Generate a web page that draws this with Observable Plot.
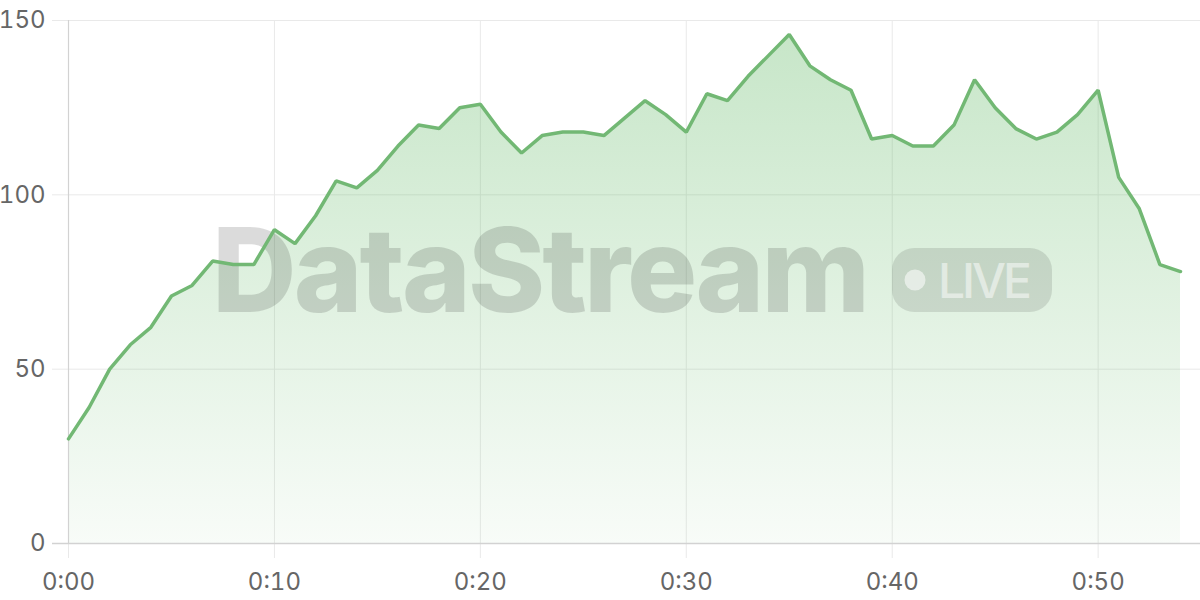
<!DOCTYPE html>
<html>
<head>
<meta charset="utf-8">
<script src="https://cdn.jsdelivr.net/npm/d3@7"></script>
<script src="https://cdn.jsdelivr.net/npm/@observablehq/plot@0.6"></script>
<style>
  html, body { margin: 0; padding: 0; background: #ffffff; }
  #chart { width: 1200px; height: 600px; }
</style>
</head>
<body>
<div id="chart"></div>
<script>
// ---- Data ----
const minutes = [0, 1, 2, 3, 4, 5, 6, 7, 8, 9,
                 10, 11, 12, 13, 14, 15, 16, 17, 18, 19,
                 20, 21, 22, 23, 24, 25, 26, 27, 28, 29,
                 30, 31, 32, 33, 34, 35, 36, 37, 38, 39,
                 40, 41, 42, 43, 44, 45, 46, 47, 48, 49,
                 50, 51, 52, 53, 54];
const values = [30, 39, 50, 57, 62, 71, 74, 81, 80, 80,
                90, 86, 94, 104, 102, 107, 114, 120, 119, 125,
                126, 118, 112, 117, 118, 118, 117, 122, 127, 123,
                118, 129, 127, 134, 140, 146, 137, 133, 130, 116,
                117, 114, 114, 120, 133, 125, 119, 116, 118, 123,
                130, 105, 96, 80, 78];
const xTicks = [0, 10, 20, 30, 40, 50];
const xTickLabels = ["0:00", "0:10", "0:20", "0:30", "0:40", "0:50"];
const yTicks = [0, 50, 100, 150];
const watermarkTitle = "DataStream";
const watermarkBadge = "LIVE";

const data = minutes.map((m, i) => ({minute: m, value: values[i]}));

// ---- Styles ----
const lineColor = "#72b874";
const gridColor = "#e9e9e9";
const axisColor = "#d2d2d2";
const labelColor = "#666666";

// Gradient definition for the area fill
const gradientDefs = (index, scales, values, dims) => {
  const defs = d3.create("svg:defs");
  const g = defs.append("linearGradient")
    .attr("id", "areaGrad")
    .attr("gradientUnits", "userSpaceOnUse")
    .attr("x1", 0).attr("x2", 0)
    .attr("y1", dims.marginTop)
    .attr("y2", dims.height - dims.marginBottom);
  g.append("stop").attr("offset", "0%").attr("stop-color", "rgb(76,175,80)").attr("stop-opacity", 0.32);
  g.append("stop").attr("offset", "100%").attr("stop-color", "rgb(76,175,80)").attr("stop-opacity", 0.04);
  return defs.node();
};

// Decorative watermark (text + LIVE badge), positioned relative to the frame
const watermark = (index, scales, values, dims) => {
  const left = dims.marginLeft;
  const top = dims.marginTop;
  const g = d3.create("svg:g").attr("pointer-events", "none").attr("text-anchor", "start");
  g.append("text")
    .attr("x", left + 144)
    .attr("y", top + 292)
    .attr("text-anchor", "start")
    .attr("font-family", "Inter, 'DejaVu Sans', sans-serif")
    .attr("font-weight", 800)
    .attr("font-size", 117)
    .attr("textLength", 658)
    .attr("lengthAdjust", "spacing")
    .attr("fill", "rgba(0,0,0,0.14)")
    .text(watermarkTitle);
  g.append("rect")
    .attr("x", left + 824)
    .attr("y", top + 228)
    .attr("width", 160)
    .attr("height", 64)
    .attr("rx", 22)
    .attr("fill", "rgba(0,0,0,0.11)");
  g.append("circle")
    .attr("cx", left + 847)
    .attr("cy", top + 260)
    .attr("r", 10.5)
    .attr("fill", "rgba(255,255,255,0.55)");
  g.append("text")
    .attr("x", left + 870)
    .attr("y", top + 278)
    .attr("text-anchor", "start")
    .attr("font-family", "Inter, 'DejaVu Sans', sans-serif")
    .attr("font-weight", 500)
    .attr("font-size", 48)
    .attr("textLength", 94)
    .attr("lengthAdjust", "spacing")
    .attr("fill", "rgba(255,255,255,0.5)")
    .text(watermarkBadge);
  return g.node();
};

const chart = Plot.plot({
  width: 1200,
  height: 600,
  marginLeft: 68,
  marginRight: 20,
  marginTop: 20,
  marginBottom: 57,
  style: {fontFamily: "Inter, 'DejaVu Sans', sans-serif", fontSize: "24px", color: labelColor, background: "#ffffff", overflow: "visible"},
  x: {domain: [0, 54], nice: false, label: null},
  y: {domain: [0, 150], nice: false, label: null},
  marks: [
    gradientDefs,
    // grid lines (extended past the frame like tick marks)
    Plot.ruleX(xTicks, {x: d => d, stroke: gridColor, strokeWidth: 1, insetBottom: -15}),
    Plot.ruleY(yTicks, {y: d => d, stroke: gridColor, strokeWidth: 1, insetLeft: -16, insetRight: -20}),
    // area
    Plot.areaY(data, {x: "minute", y: "value", fill: "url(#areaGrad)", curve: "linear"}),
    // axis lines
    Plot.ruleX([0], {x: d => d, stroke: axisColor, strokeWidth: 1.2}),
    Plot.ruleY([0], {y: d => d, stroke: axisColor, strokeWidth: 1.5, insetLeft: -16, insetRight: -20}),
    watermark,
    // line
    Plot.lineY(data, {x: "minute", y: "value", stroke: lineColor, strokeWidth: 3.5, curve: "linear", strokeLinejoin: "miter"}),
    // axes
    Plot.axisX({ticks: xTicks, tickFormat: d => xTickLabels[xTicks.indexOf(d)], tickSize: 0, tickPadding: 29, fontSize: 24, fill: labelColor, label: null}),
    Plot.axisY({ticks: yTicks, tickFormat: d => String(d), tickSize: 0, tickPadding: 23, fontSize: 24, fill: labelColor, label: null})
  ]
});

document.getElementById("chart").appendChild(chart);
</script>
</body>
</html>
